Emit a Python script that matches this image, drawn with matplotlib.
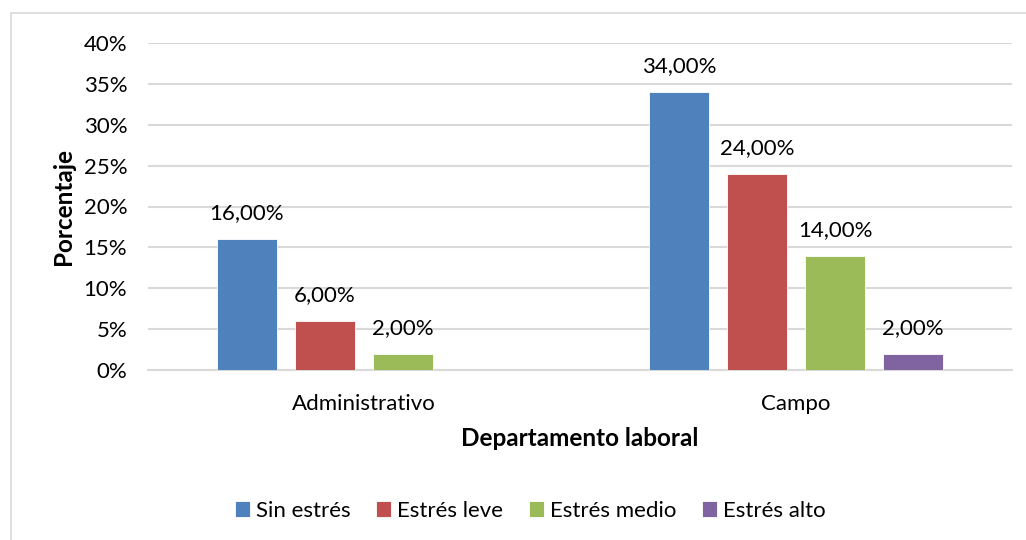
import numpy as np
import matplotlib
matplotlib.use("Agg")
import matplotlib.pyplot as plt
from matplotlib.patches import Rectangle

categories = ["Administrativo", "Campo"]
series_names = ["Sin estrés", "Estrés leve", "Estrés medio", "Estrés alto"]
sin_estres = [16.0, 34.0]
estres_leve = [6.0, 24.0]
estres_medio = [2.0, 14.0]
estres_alto = [np.nan, 2.0]
yticks = [0, 5, 10, 15, 20, 25, 30, 35, 40]

COLORS = ["#4F81BD", "#C0504D", "#9BBB59", "#8064A2"]
GRID = "#D9D9D9"
TEXT = "#000000"

plt.rcParams["font.family"] = ["Lato", "DejaVu Sans"]

fig = plt.figure(figsize=(10.26, 5.4), dpi=100)
ax = fig.add_axes([148 / 1026, 1 - 370 / 540, 864 / 1026, 327 / 540])

# chart-area border like the Excel frame
fig.patches.append(Rectangle((11 / 1026, -0.1), 1.2, 1 - 13 / 540 + 0.1,
                             transform=fig.transFigure, fill=False,
                             edgecolor=GRID, linewidth=1.2))

x = np.arange(len(categories))
step = 0.1806
width = 0.141
all_series = [sin_estres, estres_leve, estres_medio, estres_alto]
for i, (name, vals) in enumerate(zip(series_names, all_series)):
    pos = x + (i - 1.5) * step
    ax.bar(pos, vals, width, color=COLORS[i], label=name,
           edgecolor="white", linewidth=0.6, zorder=3)
    for xp, v in zip(pos, vals):
        if np.isnan(v):
            continue
        ax.annotate(f"{v:.2f}%".replace(".", ","), (xp, v),
                    xytext=(0, 18.5), textcoords="offset points",
                    ha="center", va="center", fontsize=16, color=TEXT)

ax.set_xlim(-0.5, 1.5)
ax.set_ylim(0, 40)
ax.set_yticks(yticks)
ax.set_yticklabels([f"{t}%" for t in yticks])
ax.set_xticks(x)
ax.set_xticklabels(categories)
ax.grid(axis="y", color=GRID, linewidth=1.5, zorder=0)
ax.set_axisbelow(True)
for s in ["top", "right", "left"]:
    ax.spines[s].set_visible(False)
ax.spines["bottom"].set_color(GRID)
ax.spines["bottom"].set_linewidth(1.5)
ax.tick_params(axis="both", length=0, labelsize=16, colors=TEXT)
ax.tick_params(axis="y", pad=15)
ax.tick_params(axis="x", pad=17)

ax.set_ylabel("Porcentaje", fontsize=17.5, fontweight="bold", labelpad=6)
ax.set_xlabel("Departamento laboral", fontsize=17.5, fontweight="bold", labelpad=10)

fig.legend(loc="center", bbox_to_anchor=(530 / 1026, 1 - 511 / 540), ncol=4,
           frameon=False, fontsize=16, handlelength=0.7, handleheight=0.7,
           handletextpad=0.25, columnspacing=1.15)

fig.savefig("out.png", dpi=100)
